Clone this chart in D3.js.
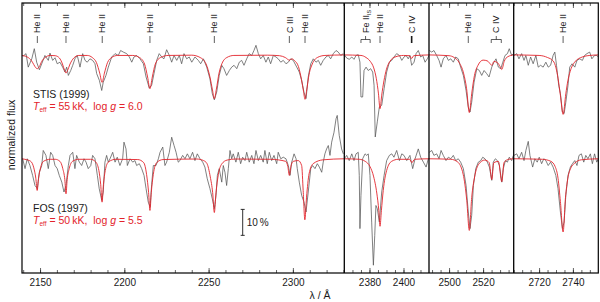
<!DOCTYPE html>
<html>
<head>
<meta charset="utf-8">
<script src="https://cdn.jsdelivr.net/npm/d3@7"></script>
<style>
body { margin: 0; background: #fff; }
text { font-family: "Liberation Sans", Arial, Helvetica, sans-serif; white-space: pre; }
</style>
</head>
<body>
<div class="chart"></div>
<script>
// wavelength ranges of the four panels (Angstrom) and the flux range
var panelDomains = [[2139.3, 2330.5], [2365.2, 2415.0], [2488.2, 2538.0], [2705.0, 2755.0]];
var majorTicks = [[2150, 2200, 2250, 2300], [2380, 2400], [2500, 2520], [2720, 2740]];
var minorStep = [10, 5, 5, 5];
var fluxDomain = [0.56, 1.6];
var stisOffset = 0.4;

// observed STIS spectrum [wavelength, normalized flux]
var stisObs = [
  [2139.7,0.994],[2141.7,1.005],[2143.0,0.953],[2145.1,0.985],[2146.6,1.024],[2148.0,0.972],[2149.6,0.943],[2151.0,0.966],
  [2152.9,0.998],[2154.9,0.979],[2155.9,1.007],[2157.5,0.979],[2158.9,0.989],[2160.2,0.966],[2161.8,0.972],[2163.4,0.953],
  [2164.8,0.934],[2165.8,0.953],[2166.8,0.921],[2168.2,0.940],[2169.4,0.960],[2170.7,0.985],[2172.1,0.998],[2173.7,0.953],
  [2175.3,1.005],[2176.7,0.979],[2178.0,0.972],[2179.6,0.985],[2181.2,0.979],[2182.6,0.966],[2183.6,0.928],[2185.2,0.902],
  [2186.6,0.863],[2187.5,0.895],[2189.1,0.921],[2190.5,0.953],[2192.5,0.992],[2194.5,1.005],[2196.4,0.998],[2197.8,1.017],
  [2199.4,1.011],[2201.4,1.005],[2203.0,0.992],[2204.4,0.972],[2205.7,0.992],[2207.3,0.998],[2209.3,0.985],[2211.3,0.966],
  [2212.9,0.915],[2214.8,0.872],[2216.2,0.883],[2217.6,0.928],[2219.2,0.979],[2220.7,1.005],[2222.2,0.992],[2223.5,0.985],
  [2225.1,1.020],[2226.7,0.998],[2228.1,0.972],[2229.5,0.998],[2231.1,0.979],[2232.6,0.998],[2234.0,0.966],[2235.4,1.005],
  [2237.0,0.985],[2238.5,0.992],[2240.0,0.972],[2241.9,0.992],[2243.9,0.979],[2245.3,0.966],[2246.9,0.985],[2248.9,0.953],
  [2250.8,0.908],[2252.2,0.851],[2253.4,0.827],[2254.8,0.857],[2256.3,0.921],[2257.8,0.960],[2259.1,0.947],[2260.7,0.921],
  [2262.3,0.940],[2263.7,0.953],[2265.1,0.960],[2266.7,0.947],[2268.2,0.972],[2269.6,0.979],[2271.0,0.960],[2272.6,0.985],
  [2274.1,1.005],[2275.6,0.998],[2276.9,1.017],[2278.1,1.037],[2279.5,1.005],[2280.9,0.985],[2282.4,0.998],[2284.0,0.972],
  [2285.4,0.992],[2286.8,0.966],[2288.4,0.998],[2290.0,0.992],[2291.3,0.985],[2292.8,0.972],[2294.3,0.979],[2295.9,0.966],
  [2297.3,0.972],[2298.7,0.985],[2300.2,0.979],[2302.3,0.953],[2303.8,0.934],[2305.2,0.902],[2306.6,0.856],[2307.8,0.832],
  [2309.1,0.915],[2310.6,0.966],[2312.1,0.985],[2313.7,0.972],[2315.1,0.979],[2316.5,0.960],[2318.0,0.979],[2319.6,0.992],
  [2321.0,0.998],[2322.4,0.985],[2324.0,1.005],[2325.6,1.017],[2326.9,1.011],[2328.4,0.998],[2329.9,1.005],
  [2365.2,1.001],[2366.6,0.988],[2368.1,0.983],[2369.6,0.992],[2370.9,0.983],[2372.1,0.998],[2373.4,1.001],[2374.4,0.972],
  [2375.0,0.838],[2376.0,0.838],[2376.8,0.940],[2378.0,0.953],[2379.3,0.940],[2380.7,0.947],[2381.9,0.934],[2382.7,0.883],
  [2383.4,0.684],[2384.6,0.742],[2385.8,0.799],[2387.2,0.806],[2388.6,0.870],[2390.1,0.934],[2391.7,0.972],[2393.1,0.979],
  [2394.4,0.992],[2396.0,1.005],[2397.6,0.998],[2399.0,0.979],[2400.3,0.992],[2401.5,0.998],[2402.8,0.985],[2403.8,0.998],
  [2404.8,0.960],[2406.2,0.972],[2407.4,1.005],[2408.7,1.017],[2410.1,0.992],[2411.3,0.998],[2412.7,0.972],[2414.0,0.985],
  [2415.0,0.998],
  [2488.4,1.017],[2489.8,1.011],[2491.1,1.017],[2492.7,0.998],[2494.1,0.979],[2495.3,0.953],[2496.6,0.985],[2498.2,0.998],
  [2499.6,0.979],[2501.0,0.985],[2502.5,0.972],[2503.9,0.992],[2505.4,0.985],[2506.8,0.953],[2508.4,0.921],[2510.0,0.863],
  [2511.3,0.799],[2512.3,0.780],[2513.3,0.818],[2514.7,0.895],[2516.3,0.947],[2517.8,0.940],[2519.2,0.921],[2520.6,0.940],
  [2522.1,0.928],[2523.5,0.915],[2525.1,0.953],[2526.4,0.972],[2527.6,0.985],[2529.0,0.953],[2530.4,0.947],[2531.6,0.972],
  [2532.9,0.998],[2534.3,1.005],[2535.4,1.024],[2536.8,0.998],[2537.8,1.005],
  [2705.2,0.998],[2706.8,1.005],[2708.1,0.985],[2709.7,1.005],[2711.1,0.979],[2712.2,0.998],[2713.6,0.960],[2715.0,0.992],
  [2716.5,0.966],[2718.1,0.998],[2719.5,0.953],[2720.9,0.960],[2722.4,0.953],[2724.0,0.972],[2725.4,0.953],[2726.8,0.960],
  [2728.3,0.998],[2729.3,1.011],[2730.3,0.960],[2731.6,0.883],[2732.6,0.851],[2733.8,0.780],[2734.8,0.774],[2735.8,0.818],
  [2737.1,0.883],[2738.1,0.953],[2739.5,0.966],[2741.1,0.953],[2742.4,0.979],[2744.0,0.985],[2745.6,0.979],[2746.9,0.998],
  [2748.3,1.005],[2749.9,1.011],[2751.2,0.985],[2752.8,0.998],[2754.1,0.998],[2755.0,0.992]
];

// model for STIS, Teff = 55 kK, log g = 6.0
var stisModel = [
  [2139.3,0.998],[2143.0,0.990],[2145.5,0.972],[2147.0,0.955],[2148.3,0.947],[2149.6,0.955],[2151.0,0.975],[2153.0,0.990],[2156.0,0.998],
  [2159.0,0.997],[2161.5,0.988],[2163.3,0.965],[2164.6,0.940],[2165.4,0.930],[2166.3,0.940],[2167.8,0.965],[2170.0,0.988],[2173.0,0.998],
  [2178.0,0.998],[2181.0,0.990],[2183.5,0.970],[2185.4,0.930],[2186.8,0.894],[2188.2,0.930],[2190.0,0.970],[2192.5,0.990],[2196.0,0.998],
  [2205.0,0.998],[2209.0,0.990],[2212.0,0.965],[2213.8,0.915],[2215.2,0.870],[2216.6,0.915],[2218.4,0.965],[2221.5,0.990],[2226.0,0.998],
  [2240.0,0.999],[2245.0,0.990],[2248.5,0.965],[2250.8,0.915],[2252.3,0.865],[2253.4,0.831],[2254.6,0.868],[2256.2,0.930],[2258.0,0.968],
  [2260.8,0.990],[2265.0,0.998],[2285.0,0.999],[2292.0,0.997],[2295.5,0.990],[2297.9,0.980],[2299.4,0.985],[2301.0,0.978],[2303.3,0.955],
  [2305.1,0.905],[2306.3,0.860],[2307.2,0.829],[2308.2,0.865],[2309.6,0.925],[2311.5,0.965],[2314.5,0.990],[2319.0,0.998],[2330.5,1.000],
  [2365.2,1.000],[2375.0,0.998],[2378.0,0.990],[2380.5,0.975],[2382.5,0.950],[2384.0,0.910],[2385.3,0.850],[2386.2,0.793],[2387.2,0.845],
  [2388.5,0.900],[2390.0,0.945],[2392.0,0.975],[2395.0,0.992],[2400.0,0.998],[2403.6,0.997],[2404.8,0.986],[2406.0,0.997],[2415.0,1.000],
  [2488.2,1.000],[2500.0,0.997],[2503.0,0.990],[2506.0,0.970],[2508.5,0.930],[2510.3,0.870],[2511.9,0.778],[2513.3,0.850],[2514.9,0.920],
  [2517.0,0.960],[2520.0,0.980],[2522.5,0.977],[2524.0,0.967],[2525.1,0.960],[2526.4,0.975],[2528.5,0.970],[2530.0,0.955],[2531.0,0.944],
  [2532.4,0.975],[2534.5,0.993],[2538.0,1.000],
  [2705.0,1.000],[2720.0,0.998],[2725.0,0.990],[2728.3,0.977],[2730.0,0.950],[2731.2,0.910],[2732.6,0.845],[2734.2,0.771],[2735.8,0.850],
  [2737.0,0.900],[2738.3,0.935],[2741.0,0.972],[2745.5,0.992],[2750.0,0.998],[2755.0,1.000]
];

// observed FOS spectrum [wavelength, normalized flux]
var fosObs = [
  [2139.7,1.000],[2141.1,0.962],[2142.4,1.000],[2144.0,0.974],[2145.6,0.936],[2147.0,0.897],[2148.4,0.885],[2149.6,0.948],
  [2151.0,0.974],[2151.9,1.032],[2153.5,1.013],[2154.9,0.962],[2156.3,1.025],[2157.5,1.013],[2158.9,0.974],[2160.2,0.962],
  [2161.4,0.936],[2162.9,0.910],[2164.2,0.872],[2165.4,0.897],[2166.8,0.974],[2167.8,1.013],[2169.4,1.025],[2170.7,0.962],
  [2171.7,1.013],[2173.3,0.987],[2174.7,0.974],[2176.1,1.000],[2177.3,0.987],[2178.6,0.962],[2180.1,0.974],[2181.2,1.013],
  [2182.6,1.000],[2184.0,0.936],[2185.1,0.885],[2186.6,0.840],[2187.5,0.872],[2188.5,0.987],[2189.5,1.013],[2190.5,0.987],
  [2191.5,1.000],[2193.1,1.025],[2194.5,0.987],[2195.8,1.006],[2197.4,0.974],[2199.0,1.000],[2199.8,1.064],[2201.0,1.038],
  [2201.8,0.974],[2203.4,1.000],[2205.0,0.987],[2206.3,0.993],[2207.3,0.974],[2208.9,0.981],[2210.3,0.962],[2211.7,0.936],
  [2212.9,0.885],[2214.2,0.833],[2215.3,0.815],[2216.2,0.900],[2217.2,0.974],[2218.8,0.974],[2220.2,1.000],[2221.2,1.025],
  [2222.8,1.045],[2224.1,0.974],[2225.1,0.987],[2226.7,1.025],[2228.1,1.083],[2229.5,1.051],[2230.7,1.025],[2232.0,0.987],
  [2233.0,0.993],[2234.6,1.013],[2236.0,1.000],[2237.4,1.019],[2238.9,1.000],[2240.5,1.025],[2241.9,0.993],[2243.3,1.019],
  [2244.9,1.000],[2246.5,0.987],[2247.8,0.968],[2249.2,0.923],[2250.8,0.885],[2252.2,0.846],[2253.4,0.808],[2254.4,0.859],
  [2255.2,0.936],[2256.3,0.962],[2257.8,0.910],[2258.7,0.974],[2259.7,0.948],[2260.7,0.897],[2261.7,0.962],[2262.7,1.032],
  [2263.7,1.000],[2264.6,1.019],[2266.2,0.987],[2267.6,1.025],[2269.0,0.981],[2270.2,1.006],[2271.6,0.993],[2272.6,1.025],
  [2274.1,0.987],[2275.6,1.013],[2276.9,0.981],[2278.1,1.032],[2279.5,0.993],[2280.9,1.013],[2282.4,0.987],[2283.4,1.032],
  [2284.8,0.981],[2286.0,1.025],[2287.4,0.993],[2288.8,1.013],[2290.4,0.981],[2291.3,1.025],[2292.8,1.000],[2294.3,1.006],
  [2295.9,1.000],[2297.3,0.974],[2298.3,0.936],[2299.3,0.987],[2300.7,1.019],[2301.9,1.000],[2302.6,0.962],[2303.8,0.910],
  [2305.2,0.859],[2306.6,0.833],[2307.8,0.795],[2309.1,0.872],[2310.6,0.962],[2311.7,0.974],[2313.1,0.962],[2314.5,0.981],
  [2315.7,0.968],[2317.1,0.948],[2318.0,0.987],[2319.0,1.019],[2320.0,1.038],[2321.0,1.051],[2322.0,1.013],[2323.0,1.064],
  [2324.4,1.102],[2325.6,1.154],[2326.3,1.167],[2327.5,1.090],[2328.9,1.038],[2329.9,1.019],
  [2365.2,1.000],[2366.6,1.013],[2368.1,0.993],[2369.6,1.019],[2370.9,0.993],[2372.1,1.019],[2373.4,1.025],[2374.0,0.936],
  [2374.4,0.731],[2375.0,0.859],[2376.0,1.000],[2377.4,1.019],[2378.4,1.013],[2379.3,1.019],[2380.3,0.936],[2381.3,0.756],
  [2382.3,0.590],[2383.1,0.705],[2383.8,0.820],[2384.6,0.808],[2385.8,0.756],[2387.2,0.872],[2388.6,0.936],[2390.1,0.993],
  [2391.7,1.013],[2393.1,1.019],[2394.4,1.006],[2396.0,1.032],[2397.6,0.993],[2399.0,1.019],[2400.3,1.013],[2401.9,0.993],
  [2403.8,1.013],[2405.4,0.962],[2406.8,1.000],[2408.7,1.038],[2410.1,1.006],[2411.7,0.987],[2413.3,0.968],[2414.6,1.000],
  [2488.4,1.025],[2489.8,1.032],[2491.1,1.013],[2492.7,1.019],[2494.1,1.000],[2495.3,1.032],[2496.6,1.013],[2498.2,0.993],
  [2499.6,1.006],[2501.0,1.000],[2502.5,1.013],[2503.9,0.993],[2505.4,1.000],[2506.8,0.987],[2508.4,0.962],[2510.0,0.897],
  [2511.3,0.795],[2512.3,0.731],[2513.3,0.782],[2514.3,0.897],[2515.7,0.962],[2517.2,0.987],[2518.6,0.993],[2519.8,1.006],
  [2521.1,1.000],[2522.5,0.987],[2523.7,0.968],[2525.1,0.917],[2526.0,0.987],[2527.2,1.000],[2528.4,0.993],[2529.6,0.974],
  [2531.0,0.910],[2531.9,0.962],[2533.1,0.993],[2534.3,0.987],[2535.4,1.006],[2536.8,0.993],[2537.8,1.013],
  [2705.2,1.013],[2706.8,1.019],[2708.1,1.000],[2709.7,1.025],[2711.1,0.993],[2712.2,1.032],[2713.6,1.067],[2714.6,1.013],
  [2716.2,0.968],[2717.5,1.000],[2718.9,0.987],[2720.1,1.006],[2721.5,0.981],[2722.8,1.000],[2724.0,0.993],[2725.4,0.974],
  [2726.8,0.987],[2728.3,0.968],[2729.9,0.936],[2731.2,0.885],[2732.6,0.795],[2733.8,0.731],[2734.8,0.756],[2735.8,0.859],
  [2737.1,0.936],[2738.5,0.968],[2739.7,0.981],[2741.1,0.993],[2742.4,0.974],[2743.6,1.013],[2745.0,1.019],[2746.4,0.987],
  [2747.6,1.013],[2748.9,1.000],[2750.3,1.019],[2751.5,0.981],[2752.8,1.019],[2754.1,0.987],[2755.0,1.000]
];

// model for FOS, Teff = 50 kK, log g = 5.5
var fosModel = [
  [2139.3,1.000],[2141.0,0.998],[2144.5,0.990],[2146.3,0.965],[2147.5,0.925],[2148.3,0.878],[2149.1,0.925],[2150.3,0.965],[2152.0,0.990],[2156.0,0.998],
  [2159.0,0.998],[2161.8,0.990],[2163.5,0.962],[2164.7,0.920],[2165.4,0.865],[2166.1,0.920],[2167.3,0.962],[2169.2,0.990],[2173.0,0.998],
  [2180.0,0.998],[2183.0,0.988],[2184.9,0.955],[2186.0,0.900],[2186.8,0.833],[2187.6,0.900],[2188.7,0.955],[2190.6,0.988],[2195.0,0.998],
  [2208.0,0.997],[2211.5,0.985],[2213.2,0.940],[2214.4,0.870],[2215.2,0.801],[2216.0,0.870],[2217.2,0.940],[2219.2,0.985],[2223.0,0.997],
  [2243.0,0.999],[2247.0,0.993],[2249.0,0.982],[2251.0,0.930],[2252.4,0.870],[2253.4,0.793],[2254.4,0.870],[2255.8,0.940],[2257.8,0.980],
  [2261.0,0.995],[2266.0,0.999],[2286.7,0.998],[2295.8,0.990],[2297.0,0.970],[2297.9,0.936],[2298.8,0.970],[2300.2,0.990],[2303.2,0.993],
  [2305.2,0.974],[2306.1,0.878],[2307.1,0.765],[2308.1,0.852],[2309.6,0.942],[2312.0,0.981],[2318.0,0.996],[2330.5,1.000],
  [2365.2,1.000],[2374.0,0.998],[2377.5,0.990],[2380.3,0.970],[2382.5,0.930],[2384.3,0.868],[2385.5,0.800],[2386.2,0.740],[2387.0,0.800],
  [2388.1,0.878],[2390.1,0.955],[2393.0,0.990],[2397.0,0.998],[2403.5,0.998],[2405.0,0.985],[2406.5,0.998],[2415.0,1.000],
  [2488.2,1.000],[2501.0,0.998],[2505.0,0.988],[2508.3,0.940],[2510.4,0.840],[2511.9,0.724],[2513.3,0.850],[2515.0,0.930],[2517.5,0.980],
  [2521.0,0.995],[2523.6,0.985],[2525.1,0.920],[2526.3,0.985],[2529.0,0.990],[2531.0,0.912],[2532.3,0.985],[2535.0,0.998],[2538.0,1.000],
  [2705.0,1.000],[2722.0,0.998],[2727.0,0.990],[2729.5,0.970],[2731.2,0.925],[2732.6,0.835],[2734.2,0.718],[2735.6,0.850],[2737.0,0.925],
  [2738.8,0.965],[2741.0,0.983],[2745.0,0.996],[2755.0,1.000]
];

// line identifications at the top
var lineLabels = ["He II", "He II", "He II", "He II", "He II", "C III", "He II", "He II", "C IV", "He II", "He II"];
var lineWaves = [2148.4, 2165.4, 2186.9, 2215.2, 2253.4, 2297.9, 2307.2, 2386.2, 2404.8, 2511.3, 2734.2];
var bracketLabels = ["Fe II", "C IV"];
var bracketSubs = ["IS", ""];
var bracketWaves = [[2375.0, 2380.4], [2524.8, 2530.7]];

var W = 600, H = 302;
var plot = {left: 22, right: 598.3, top: 3, bottom: 273};
var panelEdges = [22, 344.3, 429, 513.7, 598.3];
var red = "#e3242b", grey = "#555555", ink = "#1a1a1a";

var svg = d3.select(".chart").append("svg")
    .attr("width", W)
    .attr("height", H);

var y = d3.scaleLinear().domain(fluxDomain).range([plot.bottom, plot.top]);
var xs = panelDomains.map(function(d, i) {
  return d3.scaleLinear().domain(d).range([panelEdges[i], panelEdges[i + 1]]);
});

var defs = svg.append("defs");
xs.forEach(function(x, i) {
  defs.append("clipPath").attr("id", "clip" + i)
    .append("rect")
      .attr("x", x.range()[0])
      .attr("y", plot.top)
      .attr("width", x.range()[1] - x.range()[0])
      .attr("height", plot.bottom - plot.top);
});

function inPanel(data, i) {
  var d = panelDomains[i];
  return data.filter(function(p) { return p[0] >= d[0] - 0.5 && p[0] <= d[1] + 0.5; });
}

// spectra, panel by panel
xs.forEach(function(x, i) {
  var g = svg.append("g").attr("clip-path", "url(#clip" + i + ")");
  var obsLine = function(off) {
    return d3.line().x(function(d) { return x(d[0]); }).y(function(d) { return y(d[1] + off); });
  };
  var modLine = function(off) {
    return d3.line().curve(d3.curveMonotoneX)
      .x(function(d) { return x(d[0]); }).y(function(d) { return y(d[1] + off); });
  };
  g.append("path").datum(inPanel(stisObs, i))
    .attr("d", obsLine(stisOffset)).attr("fill", "none").attr("stroke", grey).attr("stroke-width", 0.75);
  g.append("path").datum(inPanel(fosObs, i))
    .attr("d", obsLine(0)).attr("fill", "none").attr("stroke", grey).attr("stroke-width", 0.75);
  g.append("path").datum(inPanel(stisModel, i))
    .attr("d", modLine(stisOffset)).attr("fill", "none").attr("stroke", red).attr("stroke-width", 0.9);
  g.append("path").datum(inPanel(fosModel, i))
    .attr("d", modLine(0)).attr("fill", "none").attr("stroke", red).attr("stroke-width", 0.9);

  // axes: inward ticks on bottom and top
  var minor = d3.range(Math.ceil(panelDomains[i][0] / minorStep[i]) * minorStep[i], panelDomains[i][1], minorStep[i]);
  var bottomMinor = svg.append("g").attr("transform", "translate(0," + plot.bottom + ")")
    .call(d3.axisBottom(x).tickValues(minor).tickSize(-3).tickFormat(""));
  var bottomMajor = svg.append("g").attr("transform", "translate(0," + plot.bottom + ")")
    .call(d3.axisBottom(x).tickValues(majorTicks[i]).tickSize(-5).tickPadding(6).tickFormat(d3.format("d")));
  var topMinor = svg.append("g").attr("transform", "translate(0," + plot.top + ")")
    .call(d3.axisTop(x).tickValues(minor).tickSize(-3).tickFormat(""));
  var topMajor = svg.append("g").attr("transform", "translate(0," + plot.top + ")")
    .call(d3.axisTop(x).tickValues(majorTicks[i]).tickSize(-5).tickFormat(""));
  [bottomMinor, bottomMajor, topMinor, topMajor].forEach(function(a) {
    a.select(".domain").remove();
    a.selectAll(".tick line").attr("stroke", "#222").attr("stroke-width", 0.7);
    a.selectAll("text").attr("font-size", 10).attr("fill", ink)
      .attr("font-family", "'Liberation Sans', Arial, sans-serif");
  });
});

// frame and panel separators
svg.append("rect")
  .attr("x", plot.left).attr("y", plot.top)
  .attr("width", plot.right - plot.left).attr("height", plot.bottom - plot.top)
  .attr("fill", "none").attr("stroke", "#000").attr("stroke-width", 1.2);
svg.selectAll(".sep").data(panelEdges.slice(1, 4)).enter()
  .append("line").attr("class", "sep")
    .attr("x1", function(d) { return d; }).attr("x2", function(d) { return d; })
    .attr("y1", plot.top).attr("y2", plot.bottom)
    .attr("stroke", "#000").attr("stroke-width", 1.3);

function xOf(w) {
  for (var i = 0; i < panelDomains.length; i++) {
    if (w >= panelDomains[i][0] && w <= panelDomains[i][1]) return xs[i](w);
  }
  return null;
}

// line identifications
lineLabels.forEach(function(lab, i) {
  var px = xOf(lineWaves[i]);
  svg.append("line")
    .attr("x1", px).attr("x2", px).attr("y1", 36).attr("y2", 43)
    .attr("stroke", ink).attr("stroke-width", lab == "C IV" ? 1.6 : 0.7);
  svg.append("text")
    .attr("transform", "translate(" + px + ",33) rotate(-90)")
    .attr("dy", "0.35em")
    .attr("font-size", 9).attr("fill", ink)
    .text(lab);
});
bracketLabels.forEach(function(lab, i) {
  var x0 = xOf(bracketWaves[i][0]), x1 = xOf(bracketWaves[i][1]), xm = (x0 + x1) / 2;
  svg.append("path")
    .attr("d", "M" + x0 + ",43V39.5H" + x1 + "V43M" + xm + ",39.5V36")
    .attr("fill", "none").attr("stroke", ink).attr("stroke-width", 0.7);
  var t = svg.append("text")
    .attr("transform", "translate(" + xm + ",33) rotate(-90)")
    .attr("dy", "0.35em")
    .attr("font-size", 9).attr("fill", ink)
    .text(lab);
  if (bracketSubs[i]) t.append("tspan").attr("font-size", 5.5).attr("dy", 2).text(bracketSubs[i]);
});

// spectrum labels
function specLabel(name, teff, logg, yTop) {
  svg.append("text").attr("x", 33).attr("y", yTop)
    .attr("font-size", 10.5).attr("fill", ink).text(name);
  var t = svg.append("text").attr("x", 33).attr("y", yTop + 11.5)
    .attr("font-size", 10.5).attr("fill", red);
  t.append("tspan").attr("font-style", "italic").text("T");
  t.append("tspan").attr("font-size", 6.5).attr("dy", 2.5).text("eff");
  t.append("tspan").attr("dy", -2.5).text(" = " + teff + "\u2009kK,  log ");
  t.append("tspan").attr("font-style", "italic").text("g");
  t.append("tspan").text(" = " + logg);
}
specLabel("STIS (1999)", 55, "6.0", 98);
specLabel("FOS (1997)", 50, "5.5", 212);

// 10 % scale bar
var barX = 242.7, barMid = 0.755;
svg.append("path")
  .attr("d", "M" + (barX - 2) + "," + y(barMid + 0.05) + "H" + (barX + 2) +
             "M" + barX + "," + y(barMid + 0.05) + "V" + y(barMid - 0.05) +
             "M" + (barX - 2) + "," + y(barMid - 0.05) + "H" + (barX + 2))
  .attr("fill", "none").attr("stroke", ink).attr("stroke-width", 0.9);
svg.append("text").attr("x", barX + 4).attr("y", y(barMid) + 3.5)
  .attr("font-size", 10).attr("fill", ink).text("10\u2009%");

// axis titles
svg.append("text")
  .attr("transform", "translate(15,135) rotate(-90)")
  .attr("text-anchor", "middle").attr("font-size", 10.5).attr("fill", ink)
  .text("normalized flux");
svg.append("text")
  .attr("x", 320).attr("y", 299)
  .attr("text-anchor", "middle").attr("font-size", 10.5).attr("fill", ink)
  .text("\u03bb / \u00c5");
</script>
</body>
</html>
